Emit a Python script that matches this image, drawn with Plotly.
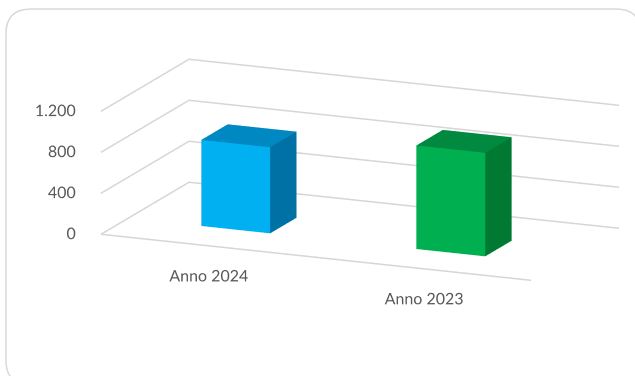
import plotly.graph_objects as go

# Chart data
categories = ["Anno 2024", "Anno 2023"]
values = [840, 1010]
tick_values = [0, 400, 800, 1200]
tick_labels = ["0", "400", "800", "1.200"]

front_colors = ["#00B0F0", "#00B050"]
top_colors = ["#0088C2", "#00893F"]
side_colors = ["#0071A4", "#007A33"]

FONT = "Lato"
TEXT_COLOR = "#595959"
GRID_COLOR = "#D6D6D6"

n_cat = len(categories)
z_max = tick_values[-1]
bar_width = 0.32
depth_front, depth_back = 0.31, 0.61

fig = go.Figure()

# Walls: value gridlines on the left wall and back wall, plus the floor's front edge
gx, gy, gz = [], [], []
for t in tick_values:
    gx += [0, 0, n_cat, None]
    gy += [0, 1, 1, None]
    gz += [t, t, t, None]
gx += [0, n_cat, None]
gy += [0, 0, None]
gz += [0, 0, None]
fig.add_trace(go.Scatter3d(
    x=gx, y=gy, z=gz, mode="lines",
    line=dict(color=GRID_COLOR, width=3),
    hoverinfo="skip", showlegend=False,
))

# 3D columns as box meshes
for idx, (cat, val) in enumerate(zip(categories, values)):
    xc = idx + 0.5
    x0, x1 = xc - bar_width / 2, xc + bar_width / 2
    y0, y1 = depth_front, depth_back
    vx = [x0, x1, x1, x0, x0, x1, x1, x0]
    vy = [y0, y0, y1, y1, y0, y0, y1, y1]
    vz = [0, 0, 0, 0, val, val, val, val]
    faces = [
        ((0, 1, 5), front_colors[idx]), ((0, 5, 4), front_colors[idx]),   # front
        ((1, 2, 6), side_colors[idx]), ((1, 6, 5), side_colors[idx]),     # right side
        ((4, 5, 6), top_colors[idx]), ((4, 6, 7), top_colors[idx]),       # top
        ((3, 0, 4), side_colors[idx]), ((3, 4, 7), side_colors[idx]),     # left side
        ((2, 3, 7), side_colors[idx]), ((2, 7, 6), side_colors[idx]),     # back
        ((0, 1, 2), top_colors[idx]), ((0, 2, 3), top_colors[idx]),       # bottom
    ]
    fig.add_trace(go.Mesh3d(
        x=vx, y=vy, z=vz,
        i=[f[0][0] for f in faces], j=[f[0][1] for f in faces], k=[f[0][2] for f in faces],
        facecolor=[f[1] for f in faces],
        flatshading=True,
        lighting=dict(ambient=1.0, diffuse=0.0, specular=0.0, roughness=1.0, fresnel=0.0),
        hovertemplate=f"{cat}: %{{z}}<extra></extra>",
        showlegend=False,
    ))

# Value labels along the front-left edge
fig.add_trace(go.Scatter3d(
    x=[-0.045] * len(tick_values), y=[0] * len(tick_values), z=tick_values,
    mode="text", text=tick_labels, textposition="middle left",
    textfont=dict(family=FONT, size=16, color=TEXT_COLOR),
    hoverinfo="skip", showlegend=False,
))

# Category labels below the floor's front edge
fig.add_trace(go.Scatter3d(
    x=[i + 0.5 for i in range(n_cat)], y=[0.0] * n_cat, z=[-290] * n_cat,
    mode="text", text=categories, textposition="middle center",
    textfont=dict(family=FONT, size=16, color=TEXT_COLOR),
    hoverinfo="skip", showlegend=False,
))

hidden = dict(visible=False, showbackground=False, showgrid=False, zeroline=False,
              showspikes=False, autorange=False)

# Camera: view direction from the front-right, above; look-at point offset so the
# box sits right of and above the middle of the figure
view_dir = (0.3789, -0.8906, 0.2515)
look_at = (-0.1976, -0.1131, -0.0930)
eye = tuple(c + 1.34 * d for c, d in zip(look_at, view_dir))

fig.update_layout(
    width=635, height=376,
    margin=dict(l=0, r=0, t=0, b=0),
    paper_bgcolor="white",
    plot_bgcolor="white",
    scene=dict(
        domain=dict(x=[0, 1], y=[0, 1]),
        xaxis=dict(range=[-0.3, n_cat + 0.3], **hidden),
        yaxis=dict(range=[-0.6, 1.6], **hidden),
        zaxis=dict(range=[-400, z_max + 400], **hidden),
        aspectmode="manual",
        aspectratio=dict(x=3.232, y=2.631, z=1.1266),
        camera=dict(
            eye=dict(x=eye[0], y=eye[1], z=eye[2]),
            up=dict(x=0, y=0, z=1),
            center=dict(x=look_at[0], y=look_at[1], z=look_at[2]),
            projection=dict(type="orthographic"),
        ),
        bgcolor="white",
        dragmode=False,
    ),
    shapes=[
        dict(
            type="path", xref="paper", yref="paper",
            path=("M 0.0488,0.976 L 0.970,0.976 Q 1.009,0.976 1.009,0.910 "
                  "L 1.009,0.042 Q 1.009,-0.024 0.970,-0.024 L 0.0488,-0.024 "
                  "Q 0.0094,-0.024 0.0094,0.042 L 0.0094,0.910 Q 0.0094,0.976 0.0488,0.976 Z"),
            line=dict(color="#D9D9D9", width=1.5),
            fillcolor="rgba(0,0,0,0)",
            layer="above",
        )
    ],
)

fig.write_html("out.html")
